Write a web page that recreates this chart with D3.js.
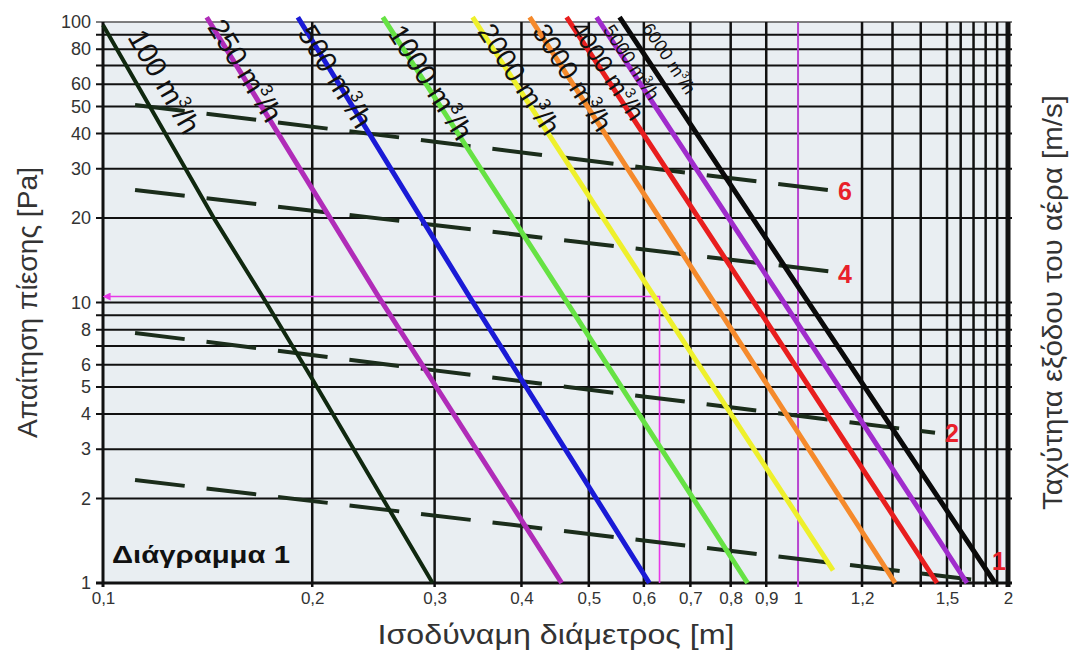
<!DOCTYPE html>
<html>
<head>
<meta charset="utf-8">
<script src="https://cdn.jsdelivr.net/npm/d3@7"></script>
<style>
  body { margin: 0; background: #fff; }
  text { font-family: "Liberation Sans", Arial, sans-serif; }
</style>
</head>
<body>
<div id="graph"></div>
<script>
// grid & tick values
const gridD = [0.1, 0.2, 0.3, 0.4, 0.5, 0.6, 0.7, 0.8, 0.9, 1, 1.2, 1.3, 1.4, 1.5, 1.6, 1.7, 1.8, 1.9, 2];
const gridP = [1, 2, 3, 4, 5, 6, 7, 8, 9, 10, 20, 30, 40, 50, 60, 70, 80, 90, 100];
const tickD = [0.1, 0.2, 0.3, 0.4, 0.5, 0.6, 0.7, 0.8, 0.9, 1, 1.2, 1.5, 2];
const tickP = [1, 2, 3, 4, 5, 6, 8, 10, 20, 30, 40, 50, 60, 80, 100];

// air flow curves (m3/h): diameter [m] vs pressure [Pa]
const flowNames = ["100", "250", "500", "1000", "2000", "3000", "4000", "5000", "6000"];
const flowD = [
  [0.1, 0.1449, 0.1698, 0.2004, 0.298],
  [0.141, 0.2493, 0.457],
  [0.1907, 0.3369, 0.611],
  [0.2527, 0.46, 0.846],
  [0.3402, 0.6217, 1.105],
  [0.411, 0.7484, 1.309],
  [0.4645, 0.8542, 1.461],
  [0.513, 0.9434, 1.648],
  [0.5536, 1.02, 1.881]
];
const flowP = [
  [97.6, 19.7, 10.46, 5.29, 1],
  [104, 10.46, 1],
  [104, 10.46, 1],
  [104, 10.46, 1],
  [104, 10.46, 1.11],
  [104, 10.46, 1],
  [104, 10.46, 1],
  [104, 10.46, 1],
  [104, 10.46, 1]
];
// where each curve label starts
const flowLabelD = [0.1083, 0.141, 0.19, 0.256, 0.345, 0.4137, 0.469, 0.5233, 0.5955];
const flowLabelP = [88.4, 96, 91.4, 91.4, 92.5, 92.5, 95, 93.6, 95];

// air velocity lines (m/s)
const velNames = ["1", "2", "4", "6"];
const velD = [[0.1112, 1.794], [0.1112, 1.4536], [0.1112, 1.111], [0.1112, 1.111]];
const velP = [[2.33, 1.016], [7.79, 3.43], [25.2, 12.85], [50.6, 25.0]];
const velLabelD = [1.855, 1.492, 1.1206, 1.1206];
const velLabelP = [1.198, 3.43, 12.64, 25.0];

// worked example
const refD = 0.632;
const refP = 10.5;

const width = 1075;
const height = 656;
const margin = {top: 22, right: 67, bottom: 73, left: 103};
const pw = width - margin.left - margin.right;
const ph = height - margin.top - margin.bottom;

const flowColors = ["#10280f", "#b02cb8", "#1a1ad6", "#66e244", "#eef02c", "#f58a2c", "#e81e1e", "#a02ccc", "#0a0a0a"];
const flowFont = [29, 29, 29, 29, 28, 27, 25, 19, 18];

const svg = d3.select("#graph")
              .append("svg")
              .attr("width", width)
              .attr("height", height);

const x = d3.scaleLog()
            .domain([0.1, 1, 1.2, 1.5, 2])
            .range([0, 0.768, 0.8387, 0.9326, 1].map(f => margin.left + f * pw));
const y = d3.scaleLog()
            .domain([1, 100])
            .range([margin.top + ph, margin.top]);

svg.append("defs")
   .append("marker")
   .attr("id", "arrow")
   .attr("viewBox", "0 0 10 10")
   .attr("refX", 2).attr("refY", 5)
   .attr("markerWidth", 5).attr("markerHeight", 5)
   .attr("orient", "auto")
   .append("path")
   .attr("d", "M0,0L10,5L0,10Z")
   .attr("fill", "#e838e8");

svg.append("rect")
   .attr("x", margin.left)
   .attr("y", margin.top)
   .attr("width", pw)
   .attr("height", ph)
   .attr("fill", "#e9eef2");

// horizontal grid
svg.append("g")
   .selectAll("line")
   .data(gridP)
   .enter()
   .append("line")
   .attr("x1", margin.left - 7)
   .attr("x2", margin.left + pw + 4)
   .attr("y1", d => y(d))
   .attr("y2", d => y(d))
   .attr("stroke", d => d === 100 ? "#555" : "#111")
   .attr("stroke-width", d => d === 1 ? 3 : (d === 100 ? 1.5 : 2));

// vertical grid
svg.append("g")
   .selectAll("line")
   .data(gridD)
   .enter()
   .append("line")
   .attr("x1", d => x(d))
   .attr("x2", d => x(d))
   .attr("y1", margin.top)
   .attr("y2", margin.top + ph + 4)
   .attr("stroke", d => d === 1 ? "#b845d0" : "#111")
   .attr("stroke-width", d => d === 2 ? 5 : (d === 1 ? 2 : (d === 0.1 ? 3 : 2.5)));

const yAxis = svg.append("g")
                 .attr("transform", `translate(${margin.left - 7}, 0)`)
                 .call(d3.axisLeft(y).tickValues(tickP).tickFormat(d3.format("d")).tickSize(0).tickPadding(5));
yAxis.select(".domain").remove();
yAxis.selectAll("text")
     .attr("font-size", 18)
     .attr("font-family", "Liberation Sans, Arial, sans-serif")
     .attr("fill", "#333");

const xAxis = svg.append("g")
                 .attr("transform", `translate(0, ${margin.top + ph})`)
                 .call(d3.axisBottom(x).tickValues(tickD).tickFormat(d => String(d).replace(".", ",")).tickSize(0).tickPadding(9));
xAxis.select(".domain").remove();
xAxis.selectAll("text")
     .attr("font-size", 17)
     .attr("font-family", "Liberation Sans, Arial, sans-serif")
     .attr("fill", "#333");

// worked example path
svg.append("path")
   .attr("d", `M${x(refD)},${y(1)}V${y(refP)}H${x(0.1) + 6}`)
   .attr("fill", "none")
   .attr("stroke", "#e838e8")
   .attr("stroke-width", 1.6)
   .attr("marker-end", "url(#arrow)");

const line = d3.line()
               .x(d => x(d[0]))
               .y(d => y(d[1]));

// velocity lines
svg.append("g")
   .selectAll("path")
   .data(velNames)
   .enter()
   .append("path")
   .attr("d", (e, i) => line(d3.zip(velD[i], velP[i])))
   .attr("fill", "none")
   .attr("stroke", "#1b2d1b")
   .attr("stroke-width", 4)
   .attr("stroke-dasharray", "50 22");

// flow curves
svg.append("g")
   .selectAll("path")
   .data(flowNames)
   .enter()
   .append("path")
   .attr("d", (e, i) => line(d3.zip(flowD[i], flowP[i])))
   .attr("fill", "none")
   .attr("stroke", (e, i) => flowColors[i])
   .attr("stroke-width", (e, i) => i === 0 ? 4 : 5)
   .attr("stroke-linejoin", "round");

const flowLabel = svg.append("g")
                     .selectAll("text")
                     .data(flowNames)
                     .enter()
                     .append("text")
                     .attr("font-size", (e, i) => flowFont[i])
                     .attr("fill", "#111")
                     .attr("transform", (e, i) => {
                       const a = Math.atan2(y(flowP[i][1]) - y(flowP[i][0]), x(flowD[i][1]) - x(flowD[i][0])) * 180 / Math.PI;
                       return `translate(${x(flowLabelD[i])}, ${y(flowLabelP[i])}) rotate(${a})`;
                     });
flowLabel.append("tspan").text(e => `${e} m`);
flowLabel.append("tspan").attr("font-size", "0.6em").attr("dy", "-0.7em").text("3");
flowLabel.append("tspan").attr("dy", "0.42em").text("/h");

svg.append("g")
   .selectAll("text")
   .data(velNames)
   .enter()
   .append("text")
   .attr("x", (e, i) => x(velLabelD[i]))
   .attr("y", (e, i) => y(velLabelP[i]))
   .attr("dy", "0.36em")
   .attr("font-size", 25)
   .attr("font-weight", "bold")
   .attr("fill", "#e8202a")
   .text(e => e);

svg.append("text")
   .attr("x", margin.left + 9)
   .attr("y", margin.top + ph - 20)
   .attr("font-size", 24)
   .attr("font-weight", "bold")
   .attr("fill", "#111")
   .attr("textLength", 178)
   .attr("lengthAdjust", "spacingAndGlyphs")
   .text("Διάγραμμα 1");

svg.append("text")
   .attr("x", 556)
   .attr("y", height - 12)
   .attr("text-anchor", "middle")
   .attr("font-size", 27)
   .attr("fill", "#333")
   .attr("textLength", 357)
   .attr("lengthAdjust", "spacingAndGlyphs")
   .text("Ισοδύναμη διάμετρος [m]");

svg.append("text")
   .attr("transform", `translate(37, ${margin.top + ph / 2}) rotate(-90)`)
   .attr("text-anchor", "middle")
   .attr("font-size", 27)
   .attr("fill", "#333")
   .attr("textLength", 271)
   .attr("lengthAdjust", "spacingAndGlyphs")
   .text("Απαίτηση πίεσης [Pa]");

svg.append("text")
   .attr("transform", `translate(1062, ${margin.top + ph / 2}) rotate(-90)`)
   .attr("text-anchor", "middle")
   .attr("font-size", 28)
   .attr("fill", "#333")
   .attr("textLength", 415)
   .attr("lengthAdjust", "spacingAndGlyphs")
   .text("Ταχύτητα εξόδου του αέρα [m/s]");
</script>
</body>
</html>
